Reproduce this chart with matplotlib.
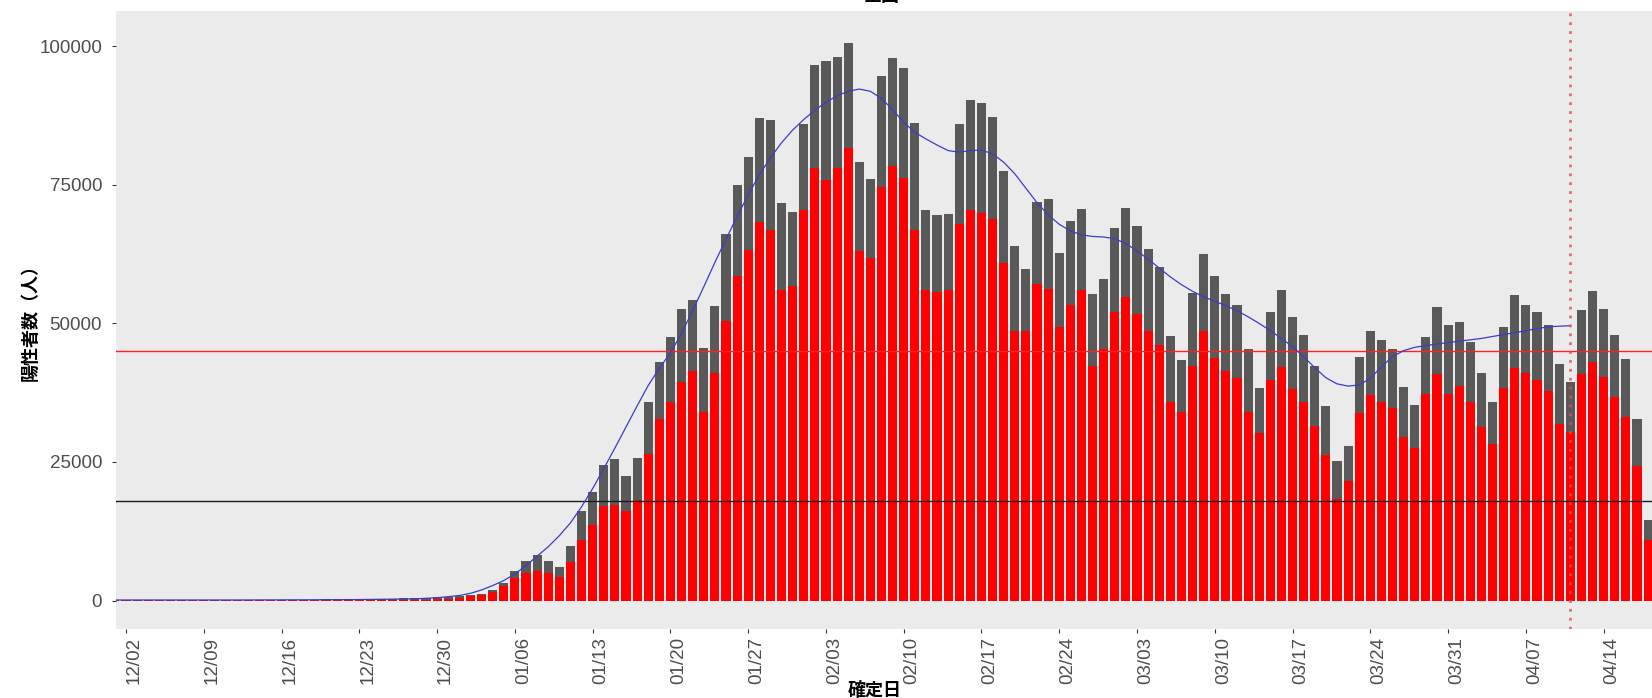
import numpy as np
import pandas as pd
import matplotlib
matplotlib.use("Agg")
import matplotlib.pyplot as plt
import matplotlib.dates as mdates

# daily values, 2021-12-01 .. 2022-04-18
dates = pd.date_range("2021-12-01", "2022-04-18", freq="D")

total = [
    # 12/01 - 12/31
    120, 110, 100, 110, 120, 90, 110, 120, 130, 120,
    110, 120, 130, 140, 150, 160, 150, 170, 180, 190,
    220, 250, 280, 300, 320, 350, 380, 420, 480, 550, 650,
    # 01/01 - 01/31
    800, 1000, 1100, 1900, 3200, 5300, 7200, 8300, 7200, 6100,
    9900, 16100, 19500, 24500, 25500, 22400, 25800, 35900, 43100, 47500,
    52600, 54200, 45500, 53100, 66100, 74900, 80100, 87000, 86800, 71800, 70200,
    # 02/01 - 02/28
    86000, 96600, 97300, 98000, 100700, 79200, 76100, 94600, 97900, 96100,
    86100, 70400, 69600, 69800, 86000, 90300, 89700, 87300, 77500, 64000,
    59800, 72000, 72400, 62800, 68500, 70700, 55300, 58000,
    # 03/01 - 03/31
    67300, 70800, 67600, 63500, 60200, 47700, 43400, 55500, 62600, 58500,
    55300, 53300, 45400, 38400, 52000, 56000, 51200, 48000, 42400, 35100,
    25200, 27800, 43900, 48600, 47100, 45400, 38600, 35300, 47600, 53000, 49800,
    # 04/01 - 04/18
    50200, 46600, 41100, 35900, 49400, 55100, 53300, 52000, 49700, 42700,
    39400, 52400, 55800, 52700, 48000, 43600, 32800, 14600,
]

red_part = [
    # 12/01 - 12/31
    40, 40, 30, 40, 40, 30, 40, 40, 40, 40,
    40, 40, 40, 50, 50, 50, 50, 60, 60, 60,
    70, 80, 90, 100, 110, 120, 130, 140, 160, 200, 250,
    # 01/01 - 01/31
    500, 900, 1000, 1500, 2700, 4000, 5000, 5300, 5000, 4300,
    7000, 10900, 13700, 17000, 17200, 16100, 18200, 26500, 32800, 35900,
    39400, 41500, 34100, 41100, 50400, 58600, 63200, 68300, 66900, 56000, 56800,
    # 02/01 - 02/28
    70400, 78000, 75900, 78000, 81700, 63000, 61800, 74700, 78500, 76200,
    66900, 56000, 55700, 56100, 67900, 70400, 69900, 68900, 61000, 48700,
    48700, 57100, 56200, 49400, 53300, 56000, 42400, 45400,
    # 03/01 - 03/31
    52000, 54700, 51700, 48700, 46100, 35900, 34100, 42400, 48700, 43700,
    41400, 40100, 34100, 30200, 39800, 42100, 38100, 35800, 31500, 26200,
    18400, 21500, 33800, 37100, 35900, 34700, 29500, 27600, 37200, 40800, 37300,
    # 04/01 - 04/18
    38800, 35800, 31300, 28200, 38400, 41900, 41100, 39800, 37800, 31800,
    30500, 40900, 43100, 40400, 36800, 33100, 24300, 10900,
]

# smoothed trend line (date, value)
trend_dates = pd.to_datetime([
    "2021-12-01", "2021-12-12", "2021-12-22", "2021-12-28", "2021-12-30",
    "2022-01-01", "2022-01-02", "2022-01-03", "2022-01-04", "2022-01-05",
    "2022-01-06", "2022-01-07", "2022-01-08", "2022-01-09", "2022-01-10",
    "2022-01-11", "2022-01-12", "2022-01-13", "2022-01-14", "2022-01-15",
    "2022-01-16", "2022-01-17", "2022-01-18", "2022-01-19", "2022-01-20",
    "2022-01-21", "2022-01-22", "2022-01-23", "2022-01-24", "2022-01-25",
    "2022-01-26", "2022-01-27", "2022-01-28", "2022-01-29", "2022-01-30",
    "2022-01-31", "2022-02-01", "2022-02-02", "2022-02-03", "2022-02-04",
    "2022-02-05", "2022-02-06", "2022-02-07", "2022-02-08", "2022-02-09",
    "2022-02-10", "2022-02-11", "2022-02-12", "2022-02-13", "2022-02-14",
    "2022-02-15", "2022-02-16", "2022-02-17", "2022-02-18", "2022-02-19",
    "2022-02-20", "2022-02-21", "2022-02-22", "2022-02-23", "2022-02-24",
    "2022-02-25", "2022-02-26", "2022-02-27", "2022-02-28", "2022-03-01",
    "2022-03-02", "2022-03-03", "2022-03-04", "2022-03-05", "2022-03-06",
    "2022-03-07", "2022-03-08", "2022-03-09", "2022-03-10", "2022-03-11",
    "2022-03-12", "2022-03-13", "2022-03-14", "2022-03-15", "2022-03-16",
    "2022-03-17", "2022-03-18", "2022-03-19", "2022-03-20", "2022-03-21",
    "2022-03-22", "2022-03-23", "2022-03-24", "2022-03-25", "2022-03-26",
    "2022-03-27", "2022-03-28", "2022-03-30", "2022-04-01", "2022-04-03",
    "2022-04-05", "2022-04-07", "2022-04-09", "2022-04-11",
])
trend_vals = [
    100, 100, 150, 300, 500,
    900, 1300, 1900, 2700, 3600,
    4800, 6300, 8000, 9700, 11700,
    14000, 16900, 20200, 23800, 27500,
    31300, 35100, 38800, 41900, 44700,
    48200, 52300, 56600, 61000, 65200,
    69300, 73200, 76800, 79900, 82600,
    84900, 86800, 88500, 89900, 91100,
    91900, 92300, 91900, 90600, 88600,
    86300, 84500, 83300, 82200, 81200,
    80900, 81200, 81300, 80600, 79100,
    77000, 74400, 71800, 69600, 67900,
    66700, 66000, 65700, 65600, 65300,
    64400, 63100, 61600, 60000, 58400,
    57000, 55800, 54800, 54000, 53200,
    52300, 51200, 50000, 48700, 47300,
    45800, 44000, 42000, 40200, 39100,
    38700, 38900, 40100, 42200, 44000,
    45100, 45700, 46300, 46800, 47300,
    48000, 48700, 49400, 49600,
]

upper_line = 45000
lower_line = 18000
cutoff_date = pd.Timestamp("2022-04-11")
tick_dates = pd.date_range("2021-12-02", "2022-04-14", freq="7D")

plt.rcParams['font.family'] = ['Liberation Sans', 'Noto Sans CJK JP', 'DejaVu Sans']
cjk = ['Noto Sans CJK JP', 'DejaVu Sans']

W, H = 1652, 698
fig = plt.figure(figsize=(W / 100, H / 100), dpi=100)
ax = fig.add_axes([116 / W, 1 - 629 / H, 1 - 116 / W, (629 - 11) / H])
ax.set_facecolor("#EBEBEB")

ax.bar(dates, total, width=0.82, color="#595959", linewidth=0, zorder=2)
ax.bar(dates, red_part, width=0.82, color="#FF0000", linewidth=0, zorder=3)

ax.axhline(upper_line, color="#FF2020", lw=1.0, zorder=4)
ax.axhline(lower_line, color="#1A1A1A", lw=1.0, zorder=4)
ax.plot(trend_dates, trend_vals, color="#3C3CC8", lw=0.9, zorder=5)
ax.axvline(cutoff_date, color="#E05050", lw=2.0, ls=(0, (1, 2.2)), alpha=0.8, zorder=5)

start = pd.Timestamp("2021-12-02")
ax.set_xlim(start - pd.Timedelta(days=0.9), start + pd.Timedelta(days=137.35))
ax.set_ylim(-5140, 106390)

ax.set_yticks([0, 25000, 50000, 75000, 100000])
ax.set_xticks(tick_dates)
ax.xaxis.set_major_formatter(mdates.DateFormatter("%m/%d"))
ax.tick_params(axis="both", colors="#333333", labelcolor="#4D4D4D",
               labelsize=13.5, length=3, width=0.8)
ax.tick_params(axis="x", pad=3)
ax.tick_params(axis="y", pad=7)
for lab in ax.get_xticklabels():
    lab.set_rotation(90)
    lab.set_ha("left")
    lab.set_va("top")

for s in ax.spines.values():
    s.set_visible(False)

fig.text(30 / W, 1 - 318 / H, "陽性者数（人）", rotation=90, ha="center", va="center",
         fontsize=13, fontweight="bold", family=cjk)
fig.text(875 / W, 1 - 691 / H, "確定日", ha="center", va="center",
         fontsize=13, fontweight="bold", family=cjk)
# title sits mostly above the top edge, as in the cropped original
fig.text(882 / W, 1 - 1 / H, "全国", ha="center", va="baseline",
         fontsize=13, fontweight="bold", family=cjk)

fig.savefig("out.png", dpi=100)
